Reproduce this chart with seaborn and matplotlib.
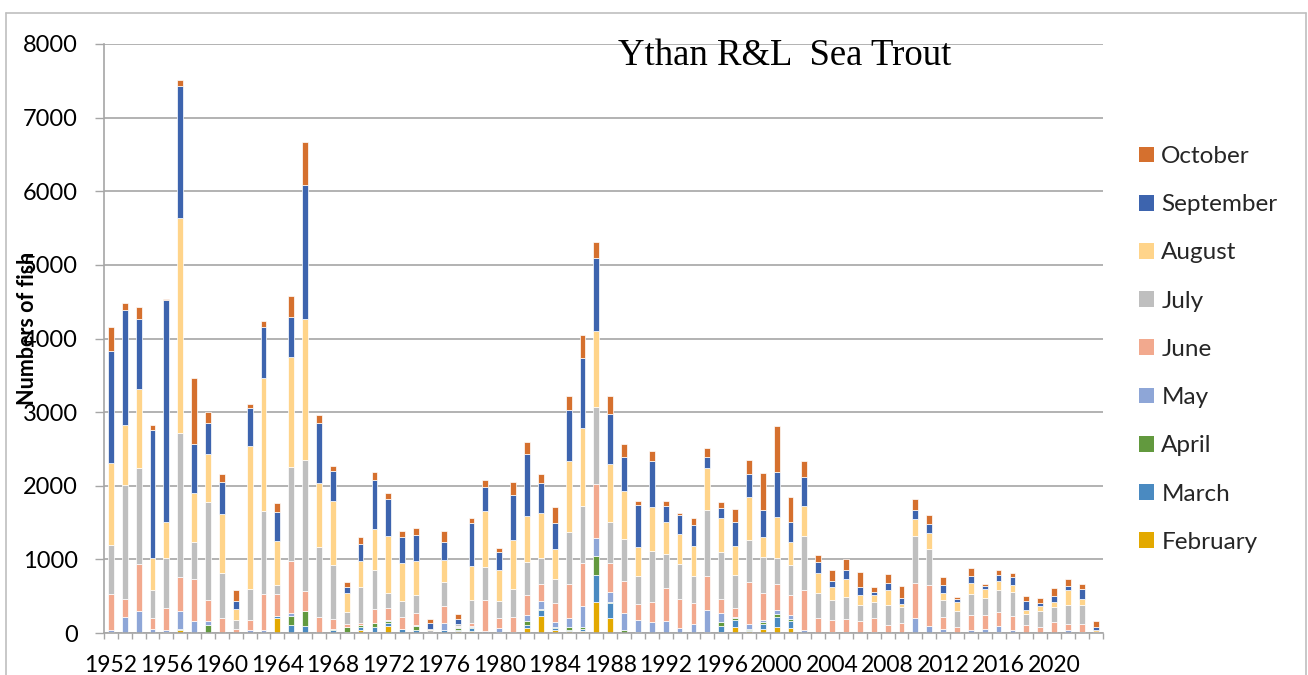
import numpy as np
import pandas as pd
import matplotlib
matplotlib.use("Agg")
import matplotlib.pyplot as plt
import seaborn as sns
from matplotlib.patches import Patch
from matplotlib.lines import Line2D

# ---------------- data ----------------
years = list(range(1952, 2024))

february = [0, 0, 0, 0, 0, 45, 0, 0, 0, 0,
            0, 0, 204, 0, 0, 0, 0, 18, 36, 14,
            91, 0, 0, 5, 0, 23, 27, 0, 14, 0,
            68, 235, 45, 23, 27, 421, 208, 0, 0, 0,
            0, 0, 0, 0, 18, 79, 23, 59, 79, 70,
            0, 0, 0, 0, 0, 0, 0, 0, 0, 0,
            0, 0, 0, 0, 0, 0, 0, 0, 0, 0,
            0, 0]
march = [0, 0, 0, 0, 0, 0, 0, 0, 0, 0,
         0, 0, 22, 115, 100, 0, 36, 0, 46, 68,
         49, 57, 36, 0, 36, 22, 41, 0, 0, 0,
         45, 73, 19, 20, 23, 362, 199, 0, 0, 0,
         0, 0, 0, 0, 79, 100, 22, 63, 141, 97,
         0, 0, 0, 0, 0, 0, 0, 0, 0, 0,
         0, 0, 0, 0, 0, 0, 0, 0, 0, 0,
         0, 0]
april = [20, 0, 0, 0, 20, 15, 0, 104, 0, 0,
         0, 0, 0, 121, 205, 0, 18, 64, 22, 48,
         28, 0, 64, 0, 0, 23, 12, 0, 0, 0,
         47, 20, 22, 39, 38, 262, 13, 36, 14, 0,
         0, 0, 0, 18, 50, 29, 14, 21, 36, 23,
         0, 0, 0, 0, 0, 0, 0, 0, 0, 0,
         14, 0, 0, 0, 14, 0, 0, 0, 0, 0,
         14, 0]
may = [25, 215, 295, 50, 15, 239, 165, 59, 0, 0,
       45, 38, 0, 39, 0, 0, 0, 0, 0, 0,
       10, 0, 13, 5, 100, 12, 11, 25, 54, 14,
       80, 104, 64, 122, 281, 249, 137, 237, 158, 152,
       165, 72, 129, 301, 118, 12, 61, 29, 59, 48,
       45, 0, 18, 20, 0, 18, 0, 0, 204, 95,
       40, 0, 45, 54, 76, 36, 0, 0, 0, 36,
       0, 0]
june = [490, 250, 645, 160, 309, 456, 563, 292, 206, 59,
        137, 495, 304, 702, 268, 212, 136, 43, 38, 195,
        167, 157, 162, 10, 234, 20, 51, 427, 136, 203,
        276, 236, 260, 464, 581, 733, 398, 433, 222, 271,
        449, 390, 272, 458, 201, 124, 577, 374, 357, 276,
        537, 210, 158, 175, 158, 190, 104, 136, 479, 561,
        168, 81, 199, 190, 195, 199, 104, 81, 154, 91,
        113, 0]
july = [663, 1549, 1300, 370, 676, 1963, 512, 1328, 610, 111,
        415, 1127, 116, 1284, 1774, 953, 739, 165, 485, 529,
        203, 216, 235, 25, 328, 18, 302, 444, 230, 385,
        448, 346, 328, 699, 774, 1041, 547, 570, 380, 688,
        461, 479, 377, 888, 634, 448, 570, 486, 351, 405,
        739, 338, 276, 296, 222, 213, 276, 217, 634, 480,
        226, 218, 285, 227, 299, 322, 154, 218, 199, 258,
        258, 10]
august = [1117, 816, 1068, 440, 494, 2922, 656, 650, 801, 162,
          1949, 1804, 600, 1493, 1923, 876, 870, 248, 350, 558,
          768, 521, 473, 15, 296, 9, 466, 756, 418, 656,
          624, 610, 398, 968, 1059, 1032, 792, 652, 389, 597,
          434, 407, 408, 570, 457, 394, 579, 271, 556, 321,
          408, 262, 175, 236, 131, 95, 208, 45, 235, 217,
          90, 122, 150, 122, 126, 90, 59, 63, 68, 194,
          72, 26]
september = [1509, 1558, 962, 1740, 3003, 1793, 671, 424, 435, 100,
             515, 698, 403, 532, 1820, 805, 408, 82, 231, 672,
             499, 359, 349, 80, 236, 59, 583, 330, 243, 611,
             837, 412, 357, 688, 955, 1000, 674, 461, 570, 629,
             218, 258, 285, 154, 144, 325, 317, 367, 611, 267,
             393, 158, 85, 131, 113, 36, 91, 77, 122, 127,
             109, 41, 95, 45, 77, 109, 117, 45, 77, 59,
             145, 41]
october = [328, 91, 161, 60, 21, 75, 902, 150, 102, 158,
           49, 81, 123, 295, 580, 113, 59, 70, 97, 102,
           92, 81, 97, 55, 161, 70, 64, 99, 59, 176,
           163, 122, 217, 199, 307, 208, 245, 181, 59, 138,
           70, 23, 90, 118, 77, 168, 185, 506, 620, 335,
           217, 91, 150, 149, 209, 68, 117, 163, 145, 126,
           113, 27, 108, 32, 73, 54, 73, 73, 117, 91,
           68, 81]

months = ["October", "September", "August", "July", "June",
          "May", "April", "March", "February"]
month_colors = ["#D5702E", "#3D64AE", "#FFD48A", "#BFBFBF", "#F2A98E",
                "#8EA6D7", "#62993E", "#4A8AC1", "#E3A900"]
y_ticks = [0, 1000, 2000, 3000, 4000, 5000, 6000, 7000, 8000]
x_label_years = list(range(1952, 2021, 4))

series = {"October": october, "September": september, "August": august,
          "July": july, "June": june, "May": may, "April": april,
          "March": march, "February": february}

df = pd.DataFrame({
    "year": np.tile(years, len(months)),
    "month": np.repeat(months, len(years)),
    "count": np.concatenate([series[m] for m in months]),
})

# ---------------- figure ----------------
sns.set_theme(style="white")
plt.rcParams["font.family"] = ["Lato", "DejaVu Sans"]

W, H = 1308, 675
fig = plt.figure(figsize=(W / 100, H / 100), dpi=100)
x0, x1 = 104, 1102.6
y_top, y_bot = 44, 633
ax = fig.add_axes([x0 / W, (H - y_bot) / H, (x1 - x0) / W, (y_bot - y_top) / H])

sns.histplot(data=df, x="year", weights="count", hue="month", hue_order=months,
             multiple="stack", discrete=True, shrink=0.42, palette=month_colors,
             alpha=1, edgecolor="white", linewidth=0.5, legend=False, ax=ax)

ax.set_xlim(years[0] - 0.5, years[-1] + 0.5)
ax.set_ylim(0, 8000)
ax.set_yticks(y_ticks)
ax.set_yticklabels([str(v) for v in y_ticks])
ax.set_xticks(x_label_years)
ax.set_xticklabels([str(v) for v in x_label_years])
ax.set_xticks(np.arange(years[0] - 0.5, years[-1] + 1.0, 1.0), minor=True)

grid_c = "#A6A6A6"
ax.set_axisbelow(True)
ax.yaxis.grid(True, color=grid_c, linewidth=1.2)
ax.xaxis.grid(False)
for s in ["top", "right"]:
    ax.spines[s].set_visible(False)
for s in ["left", "bottom"]:
    ax.spines[s].set_color(grid_c)
    ax.spines[s].set_linewidth(1.2)

ax.tick_params(axis="y", which="major", length=6.5, width=1.0, color=grid_c,
               direction="out", pad=12.5, labelsize=17, labelcolor="black", left=True)
ax.tick_params(axis="x", which="major", length=0, pad=16, labelsize=16.5,
               labelcolor="black", bottom=True)
ax.tick_params(axis="x", which="minor", length=4.5, width=1.0, color=grid_c,
               direction="out", bottom=True)
ax.set_xlabel("")
ax.set_ylabel("")

# y-axis label overlapping the tick labels (as in the original)
fig.text(28 / W, 1 - 328 / H, "Numbers of fish", rotation=90, ha="center",
         va="center", fontsize=15.5, fontweight="bold", color="black")

# title inside the plot area
fig.text(618 / W, 1 - 65 / H, "Ythan R&L  Sea Trout", ha="left", va="baseline",
         fontsize=26.5, family=["Liberation Serif", "DejaVu Serif"], color="black")

# legend
handles = [Patch(facecolor=c, edgecolor="none", label=m)
           for m, c in zip(months, month_colors)]
fig.legend(handles=handles, loc="upper left",
           bbox_to_anchor=(1139 / W, 1 - 146 / H), frameon=False,
           fontsize=17.5, borderpad=0, borderaxespad=0, labelspacing=1.12,
           handlelength=0.62, handleheight=0.62, handletextpad=0.3)

# outer chart frame
frame_c = "#BFBFBF"
fig.add_artist(Line2D([6 / W, 6 / W], [0, 1 - 13 / H], transform=fig.transFigure,
                      color=frame_c, linewidth=1.2))
fig.add_artist(Line2D([6 / W, 1306 / W], [1 - 13 / H, 1 - 13 / H],
                      transform=fig.transFigure, color=frame_c, linewidth=1.2))
fig.add_artist(Line2D([1306 / W, 1306 / W], [0, 1 - 13 / H], transform=fig.transFigure,
                      color=frame_c, linewidth=1.2))

fig.savefig("out.png", dpi=100, facecolor="white")
